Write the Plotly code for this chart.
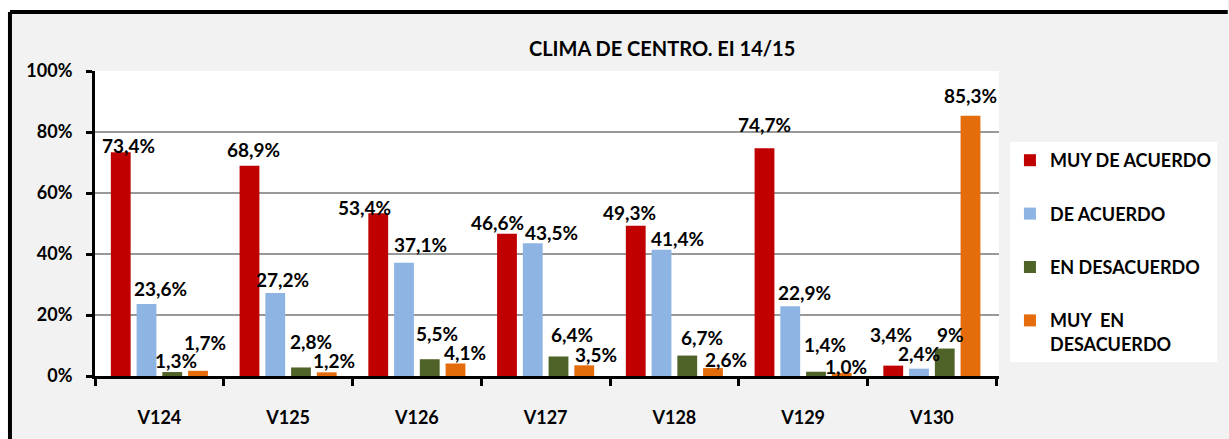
import plotly.graph_objects as go

# ---------------- data ----------------
CATEGORIES = ["V124", "V125", "V126", "V127", "V128", "V129", "V130"]
SERIES_NAMES = ["MUY DE ACUERDO", "DE ACUERDO", "EN DESACUERDO", "MUY  EN<br>DESACUERDO"]
MUY_DE_ACUERDO = [73.4, 68.9, 53.4, 46.6, 49.3, 74.7, 3.4]
DE_ACUERDO = [23.6, 27.2, 37.1, 43.5, 41.4, 22.9, 2.4]
EN_DESACUERDO = [1.3, 2.8, 5.5, 6.4, 6.7, 1.4, 9.0]
MUY_EN_DESACUERDO = [1.7, 1.2, 4.1, 3.5, 2.6, 1.0, 85.3]
Y_TICKS = [0, 20, 40, 60, 80, 100]
Y_TICK_LABELS = ["0%", "20%", "40%", "60%", "80%", "100%"]
TITLE = "CLIMA DE CENTRO. EI 14/15"

SERIES = [MUY_DE_ACUERDO, DE_ACUERDO, EN_DESACUERDO, MUY_EN_DESACUERDO]
# label decimals (the V130 "EN DESACUERDO" value is printed without decimals)
DECIMALS = [[1] * 7, [1] * 7, [1, 1, 1, 1, 1, 1, 0], [1] * 7]

# ---------------- style ----------------
COLORS = ["#C00000", "#8DB4E2", "#4F6228", "#E46C0A"]
FONT = "Lato"
BARGAP = 0.2
# manual label nudges (pixels) as placed in the original chart
LABEL_DX = [[8, 4, -14, -10, -6, 0, -2],
            [14, 7, 16, 19, 16, 14, 0],
            [4, 10, 7, 13, 15, 9, 6],
            [7, 7, 9, 12, 13, 4, 0]]
LABEL_DY = [[7, 16, 6, 11, 13, 24, 31],
            [16, 14, 18, 11, 11, 14, 15],
            [12, 26, 26, 22, 18, 27, 14],
            [28, 12, 11, 11, 9, 6, 20]]

W, H = 1229, 439
L, R, T, B = 95, 225, 71, 63
PW, PH = W - L - R, H - T - B


def px_x(X):
    return (X - L) / PW


def px_y(Y):
    return (H - B - Y) / PH


def fmt(v, d):
    s = f"{v:.{d}f}".replace(".", ",")
    return s + "%"


fig = go.Figure()
for k, (name, vals, col) in enumerate(zip(SERIES_NAMES, SERIES, COLORS)):
    fig.add_trace(go.Bar(
        x=CATEGORIES, y=vals, name=name, marker_color=col,
        marker_line_width=0, legendgroup=str(k), hoverinfo="skip",
    ))

slot = (1 - BARGAP) / len(SERIES)
annotations = []
for k, vals in enumerate(SERIES):
    for i, v in enumerate(vals):
        annotations.append(dict(
            x=i + (k - (len(SERIES) - 1) / 2) * slot, y=v, xref="x", yref="y",
            text=fmt(v, DECIMALS[k][i]), showarrow=False,
            xshift=LABEL_DX[k][i], yshift=LABEL_DY[k][i],
            xanchor="center", yanchor="middle",
            font=dict(family=FONT, size=19, color="black", weight="bold"),
        ))

annotations.append(dict(
    text=TITLE, xref="paper", yref="paper", x=px_x(665), y=px_y(48),
    xanchor="center", yanchor="middle", showarrow=False,
    font=dict(family=FONT, size=20, color="black", weight="bold"),
))

shapes = [
    dict(type="rect", xref="paper", yref="paper", x0=px_x(-5), x1=px_x(W + 5),
         y0=px_y(-5), y1=px_y(12), fillcolor="white", line_width=0, layer="below"),
    dict(type="rect", xref="paper", yref="paper", x0=px_x(-5), x1=px_x(9.5),
         y0=px_y(-5), y1=px_y(H + 5), fillcolor="white", line_width=0, layer="below"),
    dict(type="line", xref="paper", yref="paper", x0=px_x(9.5), x1=px_x(W + 5),
         y0=px_y(12), y1=px_y(12), line=dict(color="black", width=4)),
    dict(type="line", xref="paper", yref="paper", x0=px_x(9.5), x1=px_x(9.5),
         y0=px_y(12), y1=px_y(H + 5), line=dict(color="black", width=4)),
]

fig.update_layout(
    width=W, height=H,
    margin=dict(l=L, r=R, t=T, b=B, pad=0),
    paper_bgcolor="#F2F2F2", plot_bgcolor="white",
    barmode="group", bargap=BARGAP, bargroupgap=0.23,
    showlegend=True,
    legend=dict(
        x=px_x(1015), y=px_y(142), xanchor="left", yanchor="top",
        bgcolor="white", borderwidth=0,
        font=dict(family=FONT, size=18, color="black", weight="bold"),
        tracegroupgap=27, valign="top", itemwidth=30,
    ),
    annotations=annotations, shapes=shapes,
    xaxis=dict(
        type="category", showline=True, linecolor="black", linewidth=3,
        ticks="outside", tickson="boundaries", ticklen=7, tickwidth=3, tickcolor="black",
        tickfont=dict(family=FONT, size=18, color="black", weight="bold"),
        ticklabelstandoff=23, showgrid=False, fixedrange=True, automargin=False,
    ),
    yaxis=dict(
        range=[0, 100], tickvals=Y_TICKS, ticktext=Y_TICK_LABELS,
        showline=True, linecolor="black", linewidth=3,
        ticks="outside", ticklen=6, tickwidth=3, tickcolor="black",
        tickfont=dict(family=FONT, size=18, color="black", weight="bold"),
        ticklabelstandoff=10, showgrid=True, gridcolor="#999999", gridwidth=1.5,
        zeroline=False, fixedrange=True, automargin=False,
    ),
)

fig.write_html("out.html", config={"displayModeBar": False},
               post_script="document.body.style.margin='0';")
